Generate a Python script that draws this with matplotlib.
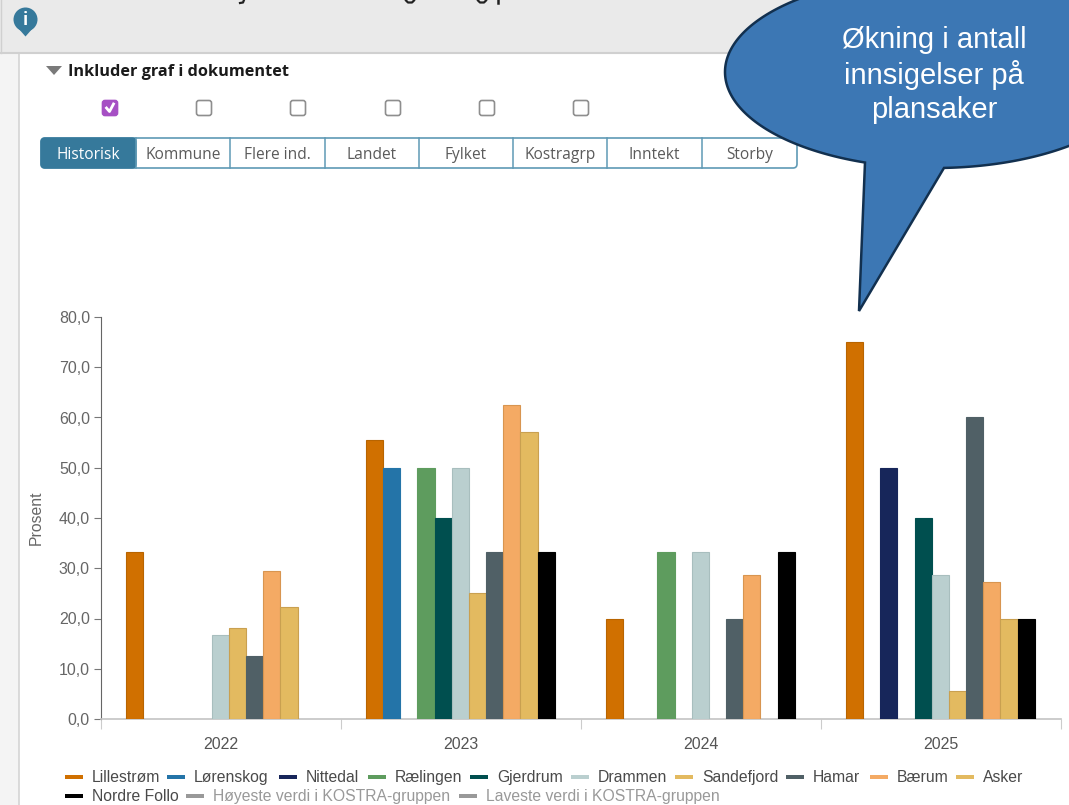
import numpy as np
import matplotlib
matplotlib.use("Agg")
import matplotlib.pyplot as plt
from matplotlib.patches import Rectangle, FancyBboxPatch, Polygon, Circle

plt.rcParams['font.family'] = ['Liberation Sans', 'DejaVu Sans']

# ----------------- Data -----------------
years = ['2022', '2023', '2024', '2025']
y_ticks = [0, 10, 20, 30, 40, 50, 60, 70, 80]

lillestrom = [33.3, 55.6, 20.0, 75.0]
lorenskog = [np.nan, 50.0, np.nan, np.nan]
nittedal = [np.nan, np.nan, np.nan, 50.0]
raelingen = [np.nan, 50.0, 33.3, np.nan]
gjerdrum = [np.nan, 40.0, np.nan, 40.0]
drammen = [16.7, 50.0, 33.3, 28.6]
sandefjord = [18.2, 25.0, np.nan, 5.5]
hamar = [12.5, 33.3, 20.0, 60.0]
baerum = [29.4, 62.5, 28.6, 27.3]
asker = [22.2, 57.1, np.nan, 20.0]
nordre_follo = [np.nan, 33.3, 33.3, 20.0]

series_names = ['Lillestrøm', 'Lørenskog', 'Nittedal', 'Rælingen', 'Gjerdrum', 'Drammen',
                'Sandefjord', 'Hamar', 'Bærum', 'Asker', 'Nordre Follo']
series_values = [lillestrom, lorenskog, nittedal, raelingen, gjerdrum, drammen,
                 sandefjord, hamar, baerum, asker, nordre_follo]
series_colors = ['#D07000', '#2474A8', '#17265A', '#5E9C5E', '#004F4F', '#BACFCF',
                 '#E3BA60', '#506066', '#F4AA64', '#E3BA60', '#000000']
edge_colors = ['#B86400', '#2474A8', '#17265A', '#5E9C5E', '#004F4F', '#A8BEBE',
               '#C9A050', '#506066', '#D89550', '#C9A050', '#000000']

tabs = ['Historisk', 'Kommune', 'Flere ind.', 'Landet', 'Fylket', 'Kostragrp', 'Inntekt', 'Storby']
callout_text = 'Økning i antall\ninnsigelser på\nplansaker'

W, H = 1069, 805
fig = plt.figure(figsize=(W / 100, H / 100), dpi=100, facecolor='white')

# ----------------- Page chrome (pixel coordinates) -----------------
bg = fig.add_axes([0, 0, 1, 1], zorder=0)
bg.set_xlim(0, W)
bg.set_ylim(H, 0)
bg.axis('off')

bg.add_patch(Rectangle((0, 0), 19, H, fc='#F4F4F4', ec='none'))
bg.plot([18.5, 18.5], [53, H], color='#D4D4D4', lw=1.2)
bg.add_patch(Rectangle((0, 0), W, 53, fc='#EAEAEA', ec='none'))
bg.plot([0, W], [53, 53], color='#D0D0D0', lw=1.5)
bg.plot([1, 1], [0, 53], color='#D0D0D0', lw=1)

# the title is cut off by the screenshot, only scraps of its descenders show
bg.plot([244, 243, 240], [0, 2.5, 3], color='#222222', lw=1.6)
for px in [410, 482]:
    bg.plot([px - 4, px - 2, px + 2, px + 4], [0.5, 2.5, 2.5, 0.5], color='#222222', lw=1.6)
bg.plot([498, 498], [0, 3], color='#222222', lw=1.8)

# info pin
bg.add_patch(Circle((25.5, 19.5), 12, fc='#36799B', ec='none'))
bg.add_patch(Polygon([[18, 28], [33, 28], [25.5, 36.5]], fc='#36799B', ec='none'))
bg.text(25.5, 20, 'i', color='white', fontsize=12, weight='bold', ha='center', va='center',
        family='Open Sans')

# section header
bg.add_patch(Polygon([[46, 66], [62, 66], [54, 75]], fc='#7A7A7A', ec='none'))
bg.text(67.5, 71.5, 'Inkluder graf i dokumentet', fontsize=11.7, weight='bold', color='#1A1A1A',
        va='center', family='Open Sans')

# checkboxes
for i, cx in enumerate([110, 204, 298, 393, 487, 581]):
    checked = i == 0
    bg.add_patch(FancyBboxPatch((cx - 7.5, 100.5), 15, 15, boxstyle='round,pad=0,rounding_size=2.5',
                                fc='#A64FC4' if checked else 'white',
                                ec='#A64FC4' if checked else '#8E8E8E', lw=1.2))
    if checked:
        bg.plot([cx - 3.5, cx - 0.5, cx + 3.5], [108, 111.5, 104], color='white', lw=2)

# tabs
tab_edges = [41, 136, 230, 325, 419, 513, 607, 702, 797]
bg.add_patch(FancyBboxPatch((41, 138), 756, 30, boxstyle='round,pad=0,rounding_size=4',
                            fc='white', ec='#5F9AB5', lw=1.2))
bg.add_patch(FancyBboxPatch((41, 138), 95, 30, boxstyle='round,pad=0,rounding_size=4',
                            fc='#36799B', ec='#36799B', lw=1))
for i, name in enumerate(tabs):
    x0, x1 = tab_edges[i], tab_edges[i + 1]
    if i > 0:
        bg.plot([x0, x0], [138, 168], color='#5F9AB5', lw=1.1)
    bg.text((x0 + x1) / 2, 155, name, fontsize=11.2, ha='center', va='center',
            color='white' if i == 0 else '#5A5A5A', family='Open Sans')

# ----------------- Bar chart -----------------
ax = fig.add_axes([101 / W, 1 - 719 / H, 960 / W, 402 / H], zorder=1)
ax.patch.set_alpha(0)

x = np.arange(len(years))
width = 0.0715
offset0 = 25 / 240 + width / 2 - 0.5
for i, (vals, col, ec) in enumerate(zip(series_values, series_colors, edge_colors)):
    ax.bar(x + offset0 + i * width, vals, width, color=col, edgecolor=ec, linewidth=0.8, zorder=3)

ax.set_xlim(-0.5, 3.5)
ax.set_ylim(0, 80)
ax.set_yticks(y_ticks)
ax.set_yticklabels([f'{v},0' for v in y_ticks], fontsize=11.5, color='#666666')
ax.set_xticks(np.arange(-0.5, 4, 1))
ax.set_xticklabels([])
ax.set_xticks(x, minor=True)
ax.set_xticklabels(years, minor=True, fontsize=11.5, color='#555555')
ax.tick_params(axis='x', which='major', length=7, color='#CCCCCC', direction='out')
ax.tick_params(axis='x', which='minor', length=0, pad=13)
ax.tick_params(axis='y', length=5, color='#777777', pad=3)
ax.spines['top'].set_visible(False)
ax.spines['right'].set_visible(False)
ax.spines['left'].set_color('#666666')
ax.spines['bottom'].set_color('#C4C4C4')
ax.spines['bottom'].set_linewidth(1.2)
ax.set_ylabel('Prosent', fontsize=11.3, color='#666666', labelpad=11)

# ----------------- Legend -----------------
rows = [
    [(n, c, '#4A4A4A') for n, c in zip(series_names[:10], series_colors[:10])],
    [(series_names[10], series_colors[10], '#4A4A4A'),
     ('Høyeste verdi i KOSTRA-gruppen', '#999999', '#999999'),
     ('Laveste verdi i KOSTRA-gruppen', '#999999', '#999999')],
]
row_x = [[65, 167, 279, 368, 470, 571, 675, 786, 870, 956], [65, 186, 459]]
row_y = [777, 796]
for r, row in enumerate(rows):
    for (name, col, tcol), px in zip(row, row_x[r]):
        bg.add_patch(Rectangle((px, row_y[r] - 2), 18, 4, fc=col, ec='none'))
        bg.text(px + 27, row_y[r] + 0.5, name, fontsize=11.3, color=tcol, va='center')

# ----------------- Callout (on top of everything) -----------------
top = fig.add_axes([0, 0, 1, 1], zorder=2)
top.set_xlim(0, W)
top.set_ylim(H, 0)
top.axis('off')
cx, cy, a, b = 935, 72, 210, 96
t_start = np.arctan2((168 - cy) / b, (944 - cx) / a)
t_end = np.arctan2((162.5 - cy) / b, (865 - cx) / a)
t = np.linspace(t_start, t_start + ((t_end - t_start) % (2 * np.pi)) - 2 * np.pi, 300)
outline = np.column_stack([cx + a * np.cos(t), cy + b * np.sin(t)])
outline = np.vstack([outline, [[859, 311]]])
top.add_patch(Polygon(outline, closed=True, fc='#3C77B4', ec='#12304F', lw=1.8, joinstyle='miter'))
top.text(934, 75, callout_text, color='white', fontsize=21, ha='center', va='center',
         linespacing=1.27)

fig.savefig('out.png', dpi=100)
